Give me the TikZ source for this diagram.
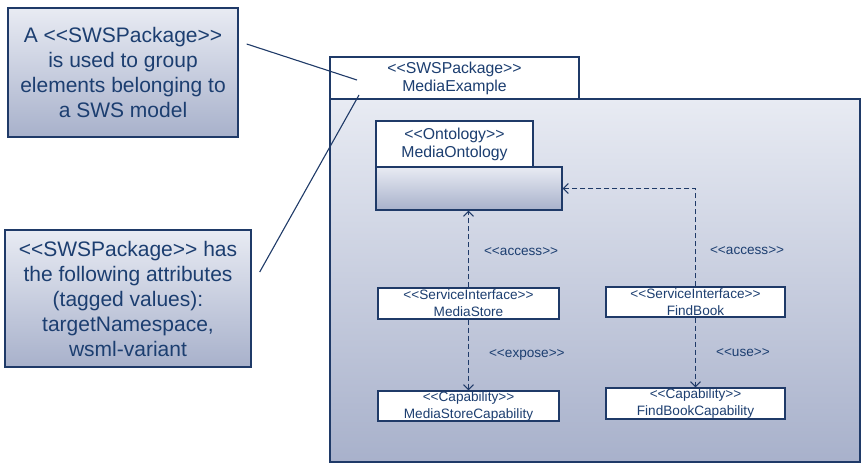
\documentclass[tikz,border=0pt]{standalone}
\usepackage{fontspec}
\setmainfont{Liberation Sans}
\usepackage{tikz}
\usetikzlibrary{arrows.meta}

\definecolor{DiagNavy}{RGB}{31,58,104}
\definecolor{DiagText}{RGB}{28,62,112}
\definecolor{ShadeTop}{RGB}{232,235,243}
\definecolor{ShadeBot}{RGB}{168,177,203}

% stereotype brackets, kept apart so they are not turned into guillemets
\newcommand{\stereo}[1]{<\kern0pt<#1>\kern0pt>}

\begin{document}
\begin{tikzpicture}[x=1pt, y=-1pt, color=DiagNavy, line width=1.1pt,
      every node/.append style={text=DiagText, inner sep=0pt, align=center},
      note/.style={draw, line width=1.4pt, top color=ShadeTop, bottom color=ShadeBot,
                   font=\fontsize{21}{25}\selectfont},
      shaded/.style={draw, top color=ShadeTop, bottom color=ShadeBot},
      tab/.style={draw, fill=white, font=\fontsize{15.8}{18}\selectfont},
      elem/.style={draw, fill=white, font=\fontsize{13.6}{17}\selectfont},
      lbl/.style={font=\fontsize{13.6}{17}\selectfont},
      dep/.style={dash pattern=on 5pt off 3pt, -{Straight Barb[length=5pt,width=10pt]}}]
  \useasboundingbox (0,0) rectangle (865,466);

  % notes on the left
  \node (note_use) [note, minimum width=230pt, minimum height=129pt] at (123,72.5)
    {A \stereo{SWSPackage}\\is used to group\\elements belonging to\\a SWS model};
  \node (note_attr) [note, minimum width=246pt, minimum height=137pt] at (128,298.5)
    {\stereo{SWSPackage} has\\the following attributes\\(tagged values):\\targetNamespace,\\wsml-variant};

  % package frame
  \node (pkg_body) [shaded, minimum width=530pt, minimum height=363pt] at (595,280.5) {};
  \node (pkg_tab) [tab, minimum width=249pt, minimum height=42pt] at (454.5,78)
    {\stereo{SWSPackage}\\MediaExample};

  % ontology
  \node (onto_body) [shaded, minimum width=186pt, minimum height=43pt] at (469,188.5) {};
  \node (onto_tab) [tab, minimum width=157pt, minimum height=46pt] at (454.5,144)
    {\stereo{Ontology}\\MediaOntology};

  % services and capabilities
  \node (mstore) [elem, minimum width=181pt, minimum height=31pt] at (468.5,303.5)
    {\stereo{ServiceInterface}\\MediaStore};
  \node (mscap) [elem, minimum width=181pt, minimum height=30pt] at (468.5,406)
    {\stereo{Capability}\\MediaStoreCapability};
  \node (fbook) [elem, minimum width=179pt, minimum height=30pt] at (695.5,302)
    {\stereo{ServiceInterface}\\FindBook};
  \node (fbcap) [elem, minimum width=179pt, minimum height=31pt] at (695.5,403.5)
    {\stereo{Capability}\\FindBookCapability};

  \draw[dep] (mstore.north) to node [lbl, pos=0.46, right=15pt] {\stereo{access}}
    (mstore.north |- onto_body.south);
  \draw[dep] (mstore) to node [lbl, midway, right=20pt] {\stereo{expose}} (mscap);
  \draw[dep] (fbook) to node [lbl, midway, right=20pt] {\stereo{use}} (fbcap);
  \draw[dep] (fbook.north) -- node [lbl, pos=0.365, right=14pt] {\stereo{access}}
    (fbook.north |- onto_body.east) -- (onto_body.east);

  % leader lines into the package tab
  \coordinate (lead_use) at (357,80);
  \coordinate (lead_attr) at (359,95);
  \draw ([shift={(8pt,28.5pt)}]note_use.east) -- (lead_use);
  \draw ([shift={(8pt,26.5pt)}]note_attr.east) -- (lead_attr);
\end{tikzpicture}
\end{document}
